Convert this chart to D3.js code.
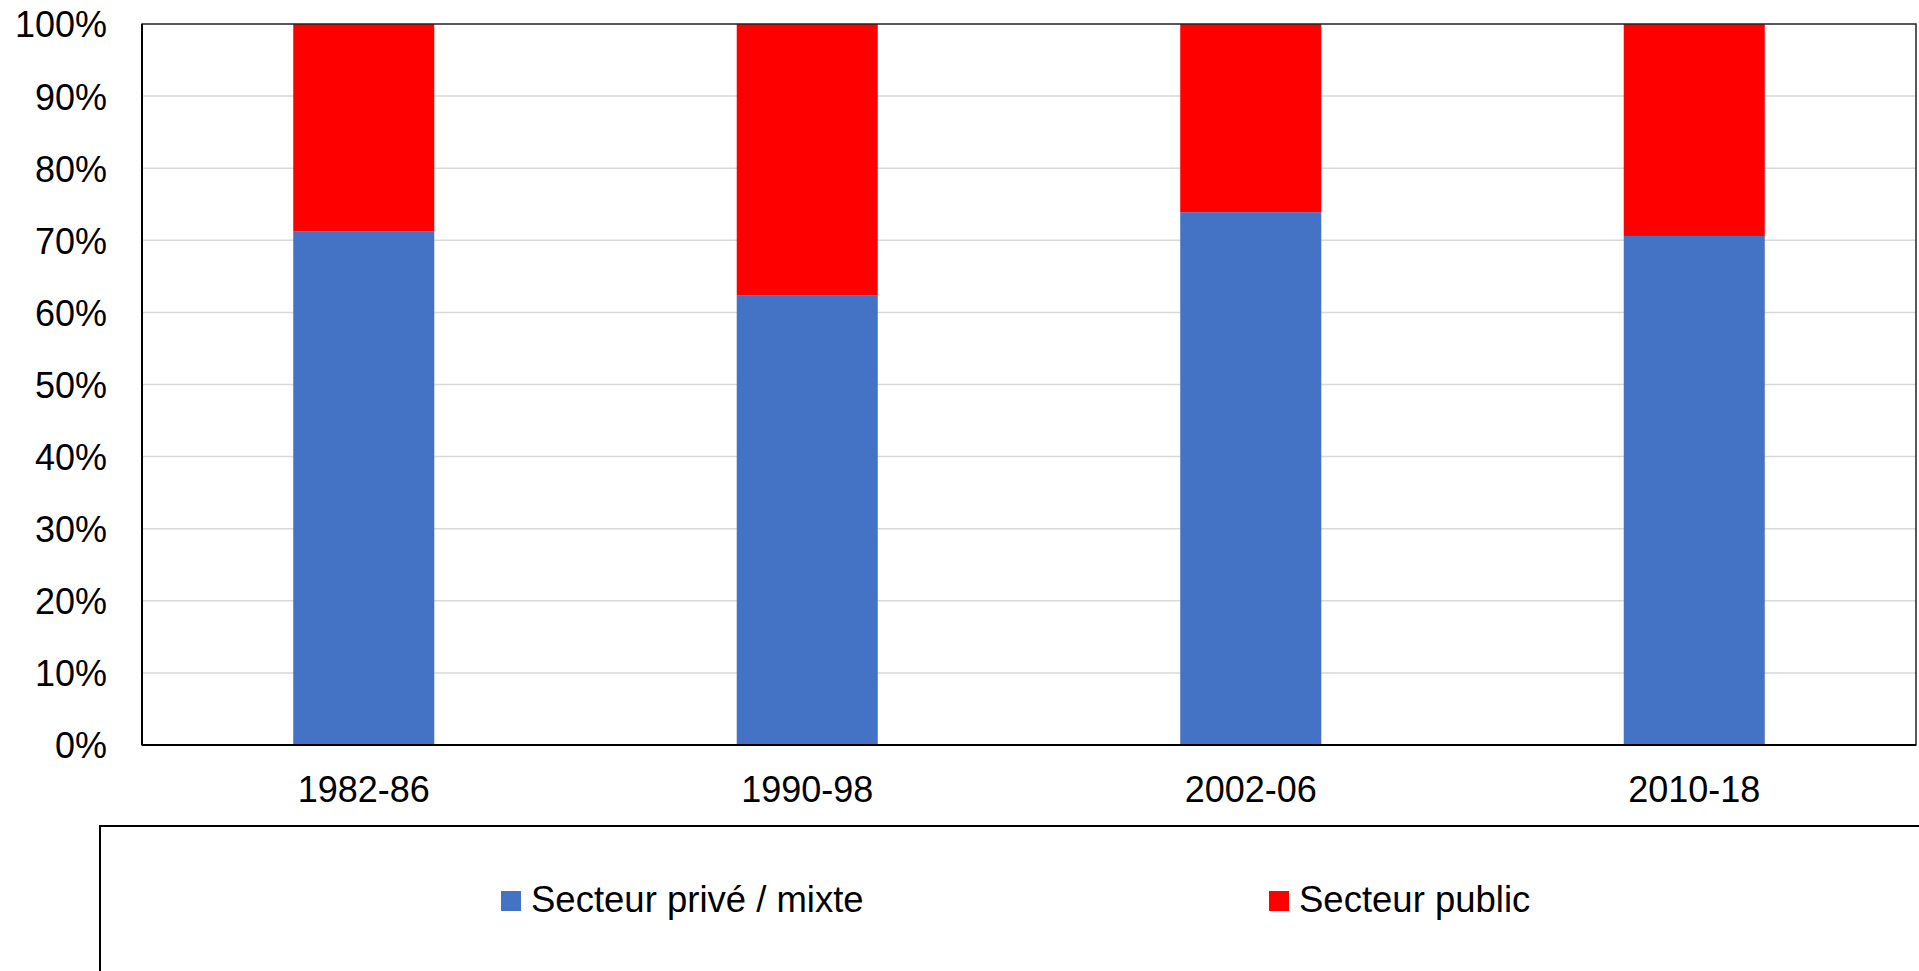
<!DOCTYPE html>
<html>
<head>
<meta charset="utf-8">
<script src="https://cdn.jsdelivr.net/npm/d3@7"></script>
<style>
  body { margin: 0; background: #fff; }
  text { font-family: "Liberation Sans", Arial, sans-serif; fill: #000; }
</style>
</head>
<body>
<svg width="1919" height="971"></svg>
<script>
// periods on the x axis
var periods = ["1982-86", "1990-98", "2002-06", "2010-18"];
// share of each sector (%)
var prive = [71.2, 62.4, 73.9, 70.6];
var publicShare = [28.8, 37.6, 26.1, 29.4];
var seriesNames = ["Secteur privé / mixte", "Secteur public"];
var seriesColors = ["#4472c4", "#ff0000"];
var yTicks = [0, 10, 20, 30, 40, 50, 60, 70, 80, 90, 100];

var width = 1919;
var height = 971;
// plot area bounds (window.top is reserved, so prefix names)
var plotLeft = 142, plotRight = 1916, plotTop = 24, plotBottom = 745;

var svg = d3.select("svg");

// build rows for the stack
var rows = periods.map((p, i) => ({ period: p, prive: prive[i], pub: publicShare[i] }));
var stacked = d3.stack().keys(["prive", "pub"])(rows);

var x = d3.scaleBand().domain(periods).range([plotLeft, plotRight]).paddingInner(0.682).paddingOuter(0.341);
var y = d3.scaleLinear().domain([0, 100]).range([plotBottom, plotTop]);

// horizontal gridlines
svg.append("g")
  .selectAll("line")
  .data(yTicks.filter(d => d > 0 && d < 100))
  .enter()
  .append("line")
  .attr("x1", plotLeft)
  .attr("x2", plotRight)
  .attr("y1", d => y(d))
  .attr("y2", d => y(d))
  .attr("stroke", "#d9d9d9")
  .attr("stroke-width", 1.5);

// bars
svg.append("g")
  .selectAll("g")
  .data(stacked)
  .enter()
  .append("g")
  .attr("fill", (d, i) => seriesColors[i])
  .selectAll("rect")
  .data(d => d)
  .enter()
  .append("rect")
  .attr("x", d => x(d.data.period))
  .attr("width", x.bandwidth())
  .attr("y", d => y(d[1]))
  .attr("height", d => y(d[0]) - y(d[1]));

// plot area frame
svg.append("rect")
  .attr("x", plotLeft)
  .attr("y", plotTop)
  .attr("width", plotRight - plotLeft)
  .attr("height", plotBottom - plotTop)
  .attr("fill", "none")
  .attr("stroke", "#222")
  .attr("stroke-width", 1.5);
svg.append("line")
  .attr("x1", plotLeft).attr("x2", plotRight)
  .attr("y1", plotBottom).attr("y2", plotBottom)
  .attr("stroke", "#000").attr("stroke-width", 2);
svg.append("line")
  .attr("x1", plotLeft).attr("x2", plotLeft)
  .attr("y1", plotTop).attr("y2", plotBottom)
  .attr("stroke", "#000").attr("stroke-width", 2);

// y axis labels
var yAxis = d3.axisLeft(y).tickValues(yTicks).tickFormat(d => d + "%").tickSize(0).tickPadding(35);
var yg = svg.append("g").attr("transform", "translate(" + plotLeft + ",0)").call(yAxis);
yg.select(".domain").remove();
yg.selectAll("text")
  .attr("font-size", 36)
  .attr("font-family", "Liberation Sans, Arial, sans-serif")
  .attr("fill", "#000")
  .attr("dy", "0.36em");

// x axis labels
var xAxis = d3.axisBottom(x).tickSize(0).tickPadding(31);
var xg = svg.append("g").attr("transform", "translate(0," + plotBottom + ")").call(xAxis);
xg.select(".domain").remove();
xg.selectAll("text")
  .attr("font-size", 36)
  .attr("font-family", "Liberation Sans, Arial, sans-serif")
  .attr("fill", "#000");

// legend box (runs past the edge of the picture)
svg.append("rect")
  .attr("x", 100)
  .attr("y", 826)
  .attr("width", 1900)
  .attr("height", 300)
  .attr("fill", "none")
  .attr("stroke", "#000")
  .attr("stroke-width", 2);

var legendX = [501, 1269];
var legend = svg.append("g")
  .selectAll("g")
  .data(seriesNames)
  .enter()
  .append("g")
  .attr("transform", (d, i) => "translate(" + legendX[i] + ",891)");
legend.append("rect")
  .attr("width", 20)
  .attr("height", 20)
  .attr("fill", (d, i) => seriesColors[i]);
legend.append("text")
  .attr("x", 30)
  .attr("y", 21)
  .attr("font-size", 36.5)
  .text(d => d);
</script>
</body>
</html>
